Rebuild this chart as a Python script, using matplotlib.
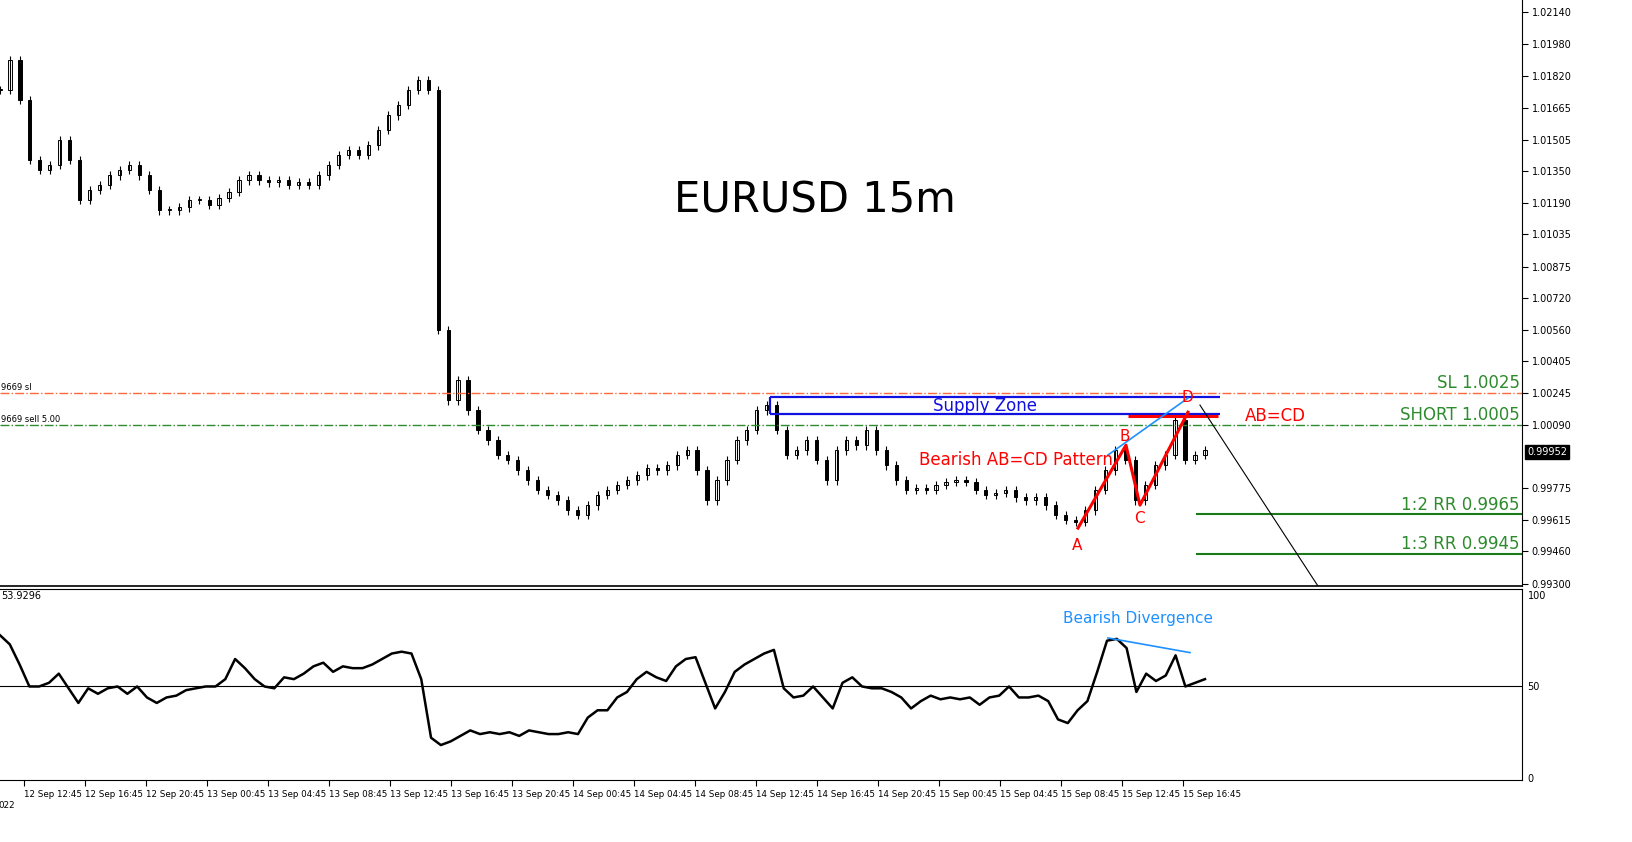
import numpy as np
import matplotlib
matplotlib.use('Agg')
import matplotlib.pyplot as plt

# closes sampled every ~2.6 bars (one step = 10 px in the reference)
closes = [1.01753, 1.01902, 1.01703, 1.01405, 1.01355, 1.01380, 1.01504, 1.01405, 1.01206, 1.01256,
          1.01281, 1.01330, 1.01355, 1.01380, 1.01330, 1.01256, 1.01156, 1.01156, 1.01171, 1.01206,
          1.01206, 1.01181, 1.01216, 1.01246, 1.01305, 1.01330, 1.01305, 1.01295, 1.01305, 1.01281,
          1.01295, 1.01281, 1.01330, 1.01380, 1.01430, 1.01455, 1.01430, 1.01479, 1.01554, 1.01628,
          1.01678, 1.01753, 1.01802, 1.01753,
          1.00560, 1.00212, 1.00311, 1.00162, 1.00063, 1.00013, 0.99939, 0.99914, 0.99864, 0.99814,
          0.99765, 0.99740, 0.99715, 0.99665, 0.99641, 0.99690, 0.99740, 0.99765, 0.99790, 0.99814,
          0.99839, 0.99874, 0.99864, 0.99889, 0.99939, 0.99963, 0.99864, 0.99715, 0.99814, 0.99914,
          1.00013, 1.00063, 1.00162, 1.00187, 1.00063, 0.99939, 0.99963, 1.00013, 0.99914, 0.99814,
          0.99963, 1.00013, 0.99988, 1.00063, 0.99963, 0.99889, 0.99814, 0.99765, 0.99775, 0.99765,
          0.99790, 0.99805, 0.99814, 0.99805, 0.99765, 0.99740, 0.99750, 0.99765, 0.99730, 0.99715,
          0.99730, 0.99690, 0.99641, 0.99616, 0.99606, 0.99665, 0.99765, 0.99864, 0.99963, 0.99914,
          0.99715, 0.99790, 0.99889, 0.99939, 1.00113, 0.99914, 0.99939, 0.99963]
rsi = [78, 73, 62, 50, 50, 52, 57, 49, 41, 49, 46, 49, 50, 46, 50, 44, 41, 44, 45, 48,
       49, 50, 50, 54, 65, 60, 54, 50, 49, 55, 54, 57, 61, 63, 58, 61, 60, 60, 62, 65,
       68, 69, 68, 54,
       22, 18, 20, 23, 26, 24, 25, 24, 25, 23, 26, 25, 24, 24, 25, 24, 33, 37, 37, 44,
       47, 54, 58, 55, 53, 61, 65, 66, 52, 38, 47, 58, 62, 65, 68, 70, 49, 44, 45, 50,
       44, 38, 52, 55, 50, 49, 49, 47, 44, 38, 42, 45, 43, 44, 43, 44, 40, 44, 45, 50,
       44, 44, 45, 42, 32, 30, 37, 42, 58, 75, 76, 71, 47, 57, 53, 56, 67, 50, 52, 54]
time_labels = ['12 Sep 12:45', '12 Sep 16:45', '12 Sep 20:45', '13 Sep 00:45', '13 Sep 04:45',
               '13 Sep 08:45', '13 Sep 12:45', '13 Sep 16:45', '13 Sep 20:45', '14 Sep 00:45',
               '14 Sep 04:45', '14 Sep 08:45', '14 Sep 12:45', '14 Sep 16:45', '14 Sep 20:45',
               '15 Sep 00:45', '15 Sep 04:45', '15 Sep 08:45', '15 Sep 12:45', '15 Sep 16:45']
price_ticks = [1.02140, 1.01980, 1.01820, 1.01665, 1.01505, 1.01350, 1.01190, 1.01035, 1.00875,
               1.00720, 1.00560, 1.00405, 1.00245, 1.00090, 0.99775, 0.99615, 0.99460, 0.99300]
sl_price, short_price, rr2_price, rr3_price = 1.00247, 1.00088, 0.99645, 0.99447
zone_top, zone_bot = 1.00227, 1.00142
abcd_x = [107.8, 112.6, 114.0, 118.8]
abcd_y = [0.99576, 0.99988, 0.99690, 1.00152]
last_price = 0.99952

GREEN = '#2e8b2e'
BLUE = '#1010e0'
LBLUE = '#1e90ff'

fig = plt.figure(figsize=(16.33, 8.42), dpi=100)
ax = fig.add_axes([0, 0.304, 0.932, 0.696])
ax2 = fig.add_axes([0, 0.0736, 0.932, 0.227])
XMAX = 152.2
ax.set_xlim(0, XMAX)
ax.set_ylim(0.99288, 1.0220)
ax2.set_xlim(0, XMAX)
ax2.set_ylim(-1.1, 103.3)

# candles (one per sample step; the price drop sits between samples 43 and 44)
x = np.arange(len(closes)) * (120.5 / (len(closes) - 1))
opens = [closes[0]] + closes[:-1]
for xi, o, c in zip(x, opens, closes):
    hi, lo = max(o, c) + 0.00022, min(o, c) - 0.00022
    ax.vlines(xi, lo, hi, color='black', lw=0.8)
    col = 'white' if c >= o else 'black'
    ax.bar(xi, max(abs(c - o), 0.00003), bottom=min(o, c), width=0.32,
           color=col, edgecolor='black', lw=0.7)

# trade levels
ax.axhline(sl_price, color='#ff6a3d', lw=1, ls='-.')
ax.axhline(short_price, color=GREEN, lw=1, ls='-.')
ax.hlines([rr2_price, rr3_price], 119.6, XMAX, color='#1a7a1a', lw=1.5)
for yv, txt in [(sl_price, 'SL 1.0025'), (short_price, 'SHORT 1.0005'),
                (rr2_price, '1:2 RR 0.9965'), (rr3_price, '1:3 RR 0.9945')]:
    ax.text(152, yv + 0.00003, txt, color=GREEN, fontsize=12, ha='right', va='bottom')
ax.text(0.1, sl_price + 0.00005, '9669 sl', fontsize=6, va='bottom')
ax.text(0.1, short_price + 0.00005, '9669 sell 5.00', fontsize=6, va='bottom')

# supply zone
ax.hlines([zone_top, zone_bot], 77.0, 122.0, color=BLUE, lw=1.6)
ax.vlines(77.0, zone_bot, zone_top, color=BLUE, lw=1.6)
ax.text(98.5, (zone_top + zone_bot) / 2, 'Supply Zone', color=BLUE, fontsize=12, ha='center', va='center')

# AB=CD
ax.plot(abcd_x, abcd_y, color='red', lw=2.2)
ax.hlines(1.00132, 112.8, 121.8, color='red', lw=2.2)
ax.text(124.5, 1.00132, 'AB=CD', color='red', fontsize=12, va='center')
for lab, xv, yv, dy in zip('ABCD', abcd_x, abcd_y, [-0.00085, 0.00045, -0.00065, 0.00075]):
    ax.text(xv - 0.1, yv + dy, lab, color='red', fontsize=11, ha='center', va='center')
ax.text(101.6, 0.99914, 'Bearish AB=CD Pattern', color='red', fontsize=12, ha='center', va='center')
ax.plot([110.8, 118.8], [0.99939, 1.00222], color=LBLUE, lw=1.2)
ax.plot([120.0, 131.8], [1.00187, 0.99288], color='black', lw=0.8)

ax.text(81.5, 1.01206, 'EURUSD 15m', fontsize=30, ha='center', va='center')

# right price scale
ax.yaxis.tick_right()
ax.set_yticks(price_ticks)
ax.set_yticklabels([f'{p:.5f}' for p in price_ticks], fontsize=7)
ax.tick_params(axis='y', length=4, pad=3)
ax.text(XMAX + 0.5, last_price, f'{last_price:.5f}', color='white', fontsize=7, va='center',
        bbox=dict(facecolor='black', edgecolor='black', pad=1.5), clip_on=False)
ax.set_xticks([])
for s in ['top', 'left']:
    ax.spines[s].set_visible(False)
ax.spines['bottom'].set_linewidth(1.2)

# RSI panel
xr = np.arange(len(rsi)) * (120.5 / (len(rsi) - 1))
ax2.plot(xr, rsi, color='black', lw=1.8)
ax2.axhline(50, color='black', lw=0.8)
ax2.plot([110.8, 119.0], [76.5, 68.5], color=LBLUE, lw=1.2)
ax2.text(113.8, 87, 'Bearish Divergence', color=LBLUE, fontsize=11, ha='center', va='center')
ax2.text(0.1, 102, '53.9296', fontsize=7, va='top')
ax2.yaxis.tick_right()
ax2.set_yticks([0, 50, 100])
ax2.set_yticklabels(['0', '50', '100'], fontsize=7)
ax2.tick_params(axis='y', length=0, pad=4)
tick_pos = [2.4 + 6.1 * k for k in range(len(time_labels))]
ax2.set_xticks(tick_pos)
ax2.set_xticklabels(time_labels, fontsize=6.3, ha='left')
ax2.tick_params(axis='x', length=4, pad=3)
ax2.spines['left'].set_visible(False)
ax2.text(-0.2, -12.5, '022', fontsize=6.3, ha='left', va='top', clip_on=False)

fig.savefig('out.png', dpi=100)
